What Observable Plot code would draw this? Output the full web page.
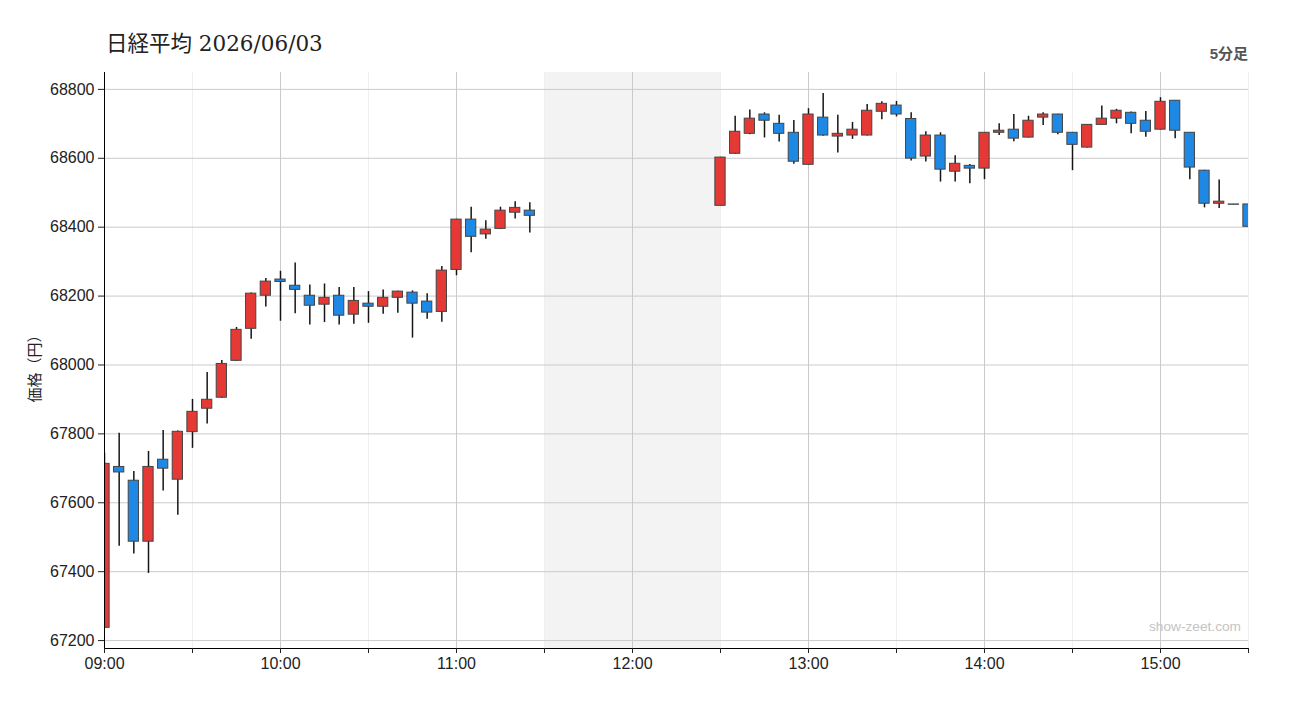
<!DOCTYPE html>
<html>
<head>
<meta charset="utf-8">
<script src="https://cdn.jsdelivr.net/npm/d3@7"></script>
<script src="https://cdn.jsdelivr.net/npm/@observablehq/plot@0.6"></script>
<style>
  body { margin: 0; background: #fff; }
  #wrap { position: relative; width: 1300px; height: 720px; overflow: hidden; }
  #chart { position: absolute; left: 0; top: 0; }
  #title { position: absolute; left: 106px; top: 33px; font-size: 21.5px; line-height: 1; color: #222;
           font-family: "DejaVu Serif", "Liberation Serif", "Noto Sans CJK JP", serif; white-space: nowrap; }
  #period { position: absolute; right: 52px; top: 46px; font-size: 15px; line-height: 1; font-weight: bold; color: #555;
            font-family: "Liberation Sans", "Noto Sans CJK JP", sans-serif; }
  #ylabel { position: absolute; left: 33px; top: 365px; transform: translate(-50%, -50%) rotate(-90deg);
            font-size: 15px; line-height: 1; color: #222; white-space: nowrap;
            font-family: "Noto Sans CJK JP", sans-serif; }
  #mark { position: absolute; right: 59px; top: 620px; font-size: 13.7px; line-height: 1; color: #c4c4c4;
          font-family: "Liberation Sans", Arial, sans-serif; }
</style>
</head>
<body>
<div id="wrap">
  <div id="chart"></div>
  <div id="title">日経平均 2026/06/03</div>
  <div id="period">5分足</div>
  <div id="ylabel">価格（円）</div>
  <div id="mark">show-zeet.com</div>
</div>
<script>
const times = [
  "09:00","09:05","09:10","09:15","09:20","09:25","09:30","09:35","09:40","09:45",
  "09:50","09:55","10:00","10:05","10:10","10:15","10:20","10:25","10:30","10:35",
  "10:40","10:45","10:50","10:55","11:00","11:05","11:10","11:15","11:20","11:25",
  "12:30","12:35","12:40","12:45","12:50","12:55","13:00","13:05","13:10","13:15",
  "13:20","13:25","13:30","13:35","13:40","13:45","13:50","13:55","14:00","14:05",
  "14:10","14:15","14:20","14:25","14:30","14:35","14:40","14:45","14:50","14:55",
  "15:00","15:05","15:10","15:15","15:20","15:25","15:30"
];
const opens = [
  67237,67704,67664,67487,67725,67667,67805,67873,67905,68012,
  68105,68201,68248,68230,68201,68175,68201,68146,68178,68169,
  68195,68210,68184,68154,68276,68422,68379,68395,68442,68448,
  68462,68613,68671,68727,68700,68674,68581,68718,68663,68666,
  68666,68735,68753,68714,68605,68666,68561,68578,68570,68674,
  68683,68660,68718,68727,68674,68631,68697,68715,68732,68709,
  68683,68767,68674,68564,68468,68466,68466
];
const highs = [
  67744,67802,67691,67749,67810,67808,67900,67978,68013,68109,
  68209,68251,68272,68296,68232,68235,68225,68225,68213,68218,
  68214,68215,68207,68286,68423,68458,68419,68458,68474,68471,
  68603,68722,68740,68732,68725,68710,68744,68788,68725,68704,
  68756,68764,68765,68732,68677,68674,68607,68582,68675,68700,
  68727,68722,68732,68728,68675,68698,68752,68742,68734,68736,
  68776,68768,68675,68565,68537,68466,68466
];
const lows = [
  67237,67474,67451,67395,67634,67564,67758,67829,67903,68010,
  68075,68168,68127,68149,68116,68123,68116,68118,68121,68147,
  68150,68078,68133,68124,68259,68326,68365,68393,68424,68383,
  68461,68612,68668,68659,68647,68583,68580,68664,68615,68655,
  68665,68712,68720,68592,68589,68531,68531,68526,68538,68666,
  68648,68659,68695,68668,68564,68630,68696,68700,68671,68661,
  68682,68657,68538,68456,68454,68465,68401
];
const closes = [
  67713,67688,67487,67704,67699,67806,67864,67899,68003,68102,
  68207,68242,68241,68218,68172,68195,68143,68186,68169,68195,
  68213,68178,68152,68274,68422,68372,68393,68448,68456,68433,
  68602,68677,68715,68709,68671,68590,68727,68666,68671,68683,
  68738,68758,68727,68599,68666,68567,68584,68570,68674,68680,
  68657,68709,68727,68674,68639,68697,68715,68738,68700,68677,
  68764,68680,68573,68468,68474,68465,68401
];
const yTicks = [67200, 67400, 67600, 67800, 68000, 68200, 68400, 68600, 68800];
const xTickLabels = ["09:00","10:00","11:00","12:00","13:00","14:00","15:00"];
const session = ["09:00", "15:30"];
const lunchBreak = ["11:30", "12:30"];
const yDomain = [67177, 68849];

const toDate = s => { const [h, m] = s.split(":").map(Number); return new Date(Date.UTC(2026, 5, 3, h, m)); };
const candles = times.map((t, i) => ({t: toDate(t), open: opens[i], high: highs[i], low: lows[i], close: closes[i]}));
const halfW = 1.75 * 60 * 1000;
const start = toDate(session[0]), end = toDate(session[1]);
const halfTicks = d3.utcMinute.every(30).range(start, new Date(+end + 1));
const hourTicks = xTickLabels.map(toDate);
const minorTicks = halfTicks.filter(d => d.getUTCMinutes() !== 0);
const fmt = d3.utcFormat("%H:%M");

const chart = Plot.plot({
  width: 1300, height: 720,
  marginTop: 72, marginBottom: 72, marginLeft: 104, marginRight: 52,
  style: {fontFamily: "'Liberation Sans', Arial, sans-serif", fontSize: "16px", color: "#222", background: "transparent"},
  x: {type: "utc", domain: [start, end]},
  y: {domain: yDomain},
  color: {type: "identity"},
  marks: [
    Plot.rect([{a: toDate(lunchBreak[0]), b: toDate(lunchBreak[1])}], {x1: "a", x2: "b", fill: "#f3f3f3"}),
    Plot.gridX({ticks: minorTicks, stroke: "#efefef", strokeOpacity: 1}),
    Plot.gridX({ticks: hourTicks, stroke: "#cacaca", strokeOpacity: 1}),
    Plot.gridY({ticks: yTicks, stroke: "#cacaca", strokeOpacity: 1}),
    Plot.ruleX(candles, {x: "t", y1: "low", y2: "high", stroke: "#151515", strokeWidth: 1.5, clip: true}),
    Plot.rect(candles, {
      x1: d => new Date(+d.t - halfW), x2: d => new Date(+d.t + halfW),
      y1: "open", y2: "close",
      fill: d => d.close >= d.open ? "#e53935" : "#1e88e5",
      stroke: "#454545", strokeWidth: 1, clip: true
    }),
    Plot.frame({anchor: "left", stroke: "#000"}),
    Plot.frame({anchor: "bottom", stroke: "#000"}),
    Plot.axisY({ticks: yTicks, tickSize: 6, tickPadding: 4, tickFormat: d => String(d), label: null}),
    Plot.axisX({ticks: halfTicks, tickSize: 5, tickPadding: 4, tickFormat: d => d.getUTCMinutes() === 0 ? fmt(d) : "", label: null})
  ]
});
document.getElementById("chart").appendChild(chart);
</script>
</body>
</html>
